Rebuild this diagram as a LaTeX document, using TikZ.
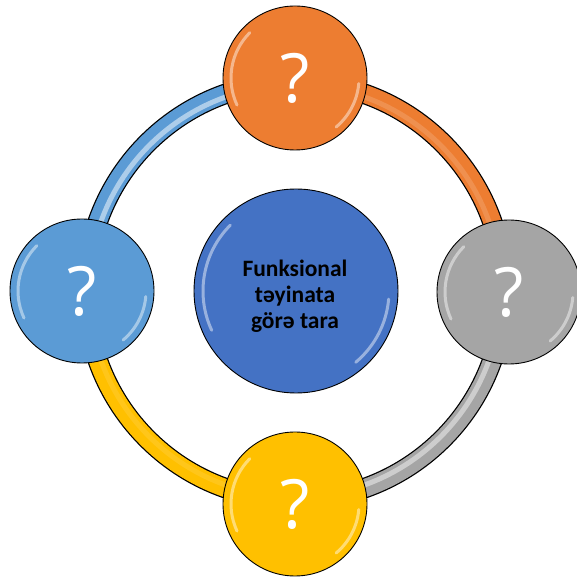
\documentclass[tikz,border=0pt]{standalone}
\usepackage{fontspec}
\setmainfont{Open Sans}
\newfontfamily\titlefont{Carlito}
\definecolor{cOrange}{HTML}{ED7D31}
\definecolor{cGray}{HTML}{A5A5A5}
\definecolor{cYellow}{HTML}{FFC000}
\definecolor{cBlue}{HTML}{5B9BD5}
\definecolor{cCenter}{HTML}{4472C4}
\newcommand\glossy[2]{%
  \draw[white, line width=3pt, opacity=.45, line cap=round] ([shift={(135:#2)}]#1.center) arc (135:205:#2);
  \draw[white, line width=3pt, opacity=.45, line cap=round] ([shift={(-50:#2)}]#1.center) arc (-50:-5:#2);}
\newcommand\ringseg[4]{% start, end, colour, highlight opacity
  \draw[black, line width=20.5pt] ([shift={(#1:209)}]O) arc (#1:#2:209);
  \draw[#3, line width=18pt] ([shift={(#1:209)}]O) arc (#1:#2:209);
  \draw[white, line width=5pt, opacity=#4] ([shift={(#1:206)}]O) arc (#1:#2:206);}
\tikzset{
  bubble/.style={circle, draw=black, line width=0.9pt, minimum size=144pt, inner sep=0pt,
    text=white, font=\fontsize{68}{68}\selectfont},
  hub/.style={circle, draw=black, line width=0.9pt, minimum size=204pt, inner sep=0pt,
    fill=cCenter},
  hubtext/.style={text=black, align=center, inner sep=0pt, font=\titlefont\bfseries\fontsize{23.5}{26}\selectfont}
}
\begin{document}
\begin{tikzpicture}[x=1pt,y=1pt]
\useasboundingbox (0,0) rectangle (576,586);
\coordinate (O) at (295,295);
\ringseg{90}{0}{cOrange}{0.15}
\ringseg{0}{-90}{cGray}{0.45}
\ringseg{-90}{-180}{cYellow}{0.1}
\ringseg{180}{90}{cBlue}{0.5}
\node[hub] (hub) at (296,295) {};
\node[hubtext] (title) at (295,290) {Funksional\\təyinata\\görə tara};
\node[bubble, fill=cOrange] (top) at (295,508) {?};
\node[bubble, fill=cGray] (right) at (509,294) {?};
\node[bubble, fill=cYellow] (bottom) at (295,82) {?};
\node[bubble, fill=cBlue] (left) at (82,295) {?};
\glossy{top}{64}
\glossy{right}{64}
\glossy{bottom}{64}
\glossy{left}{64}
\glossy{hub}{93}
\end{tikzpicture}
\end{document}
